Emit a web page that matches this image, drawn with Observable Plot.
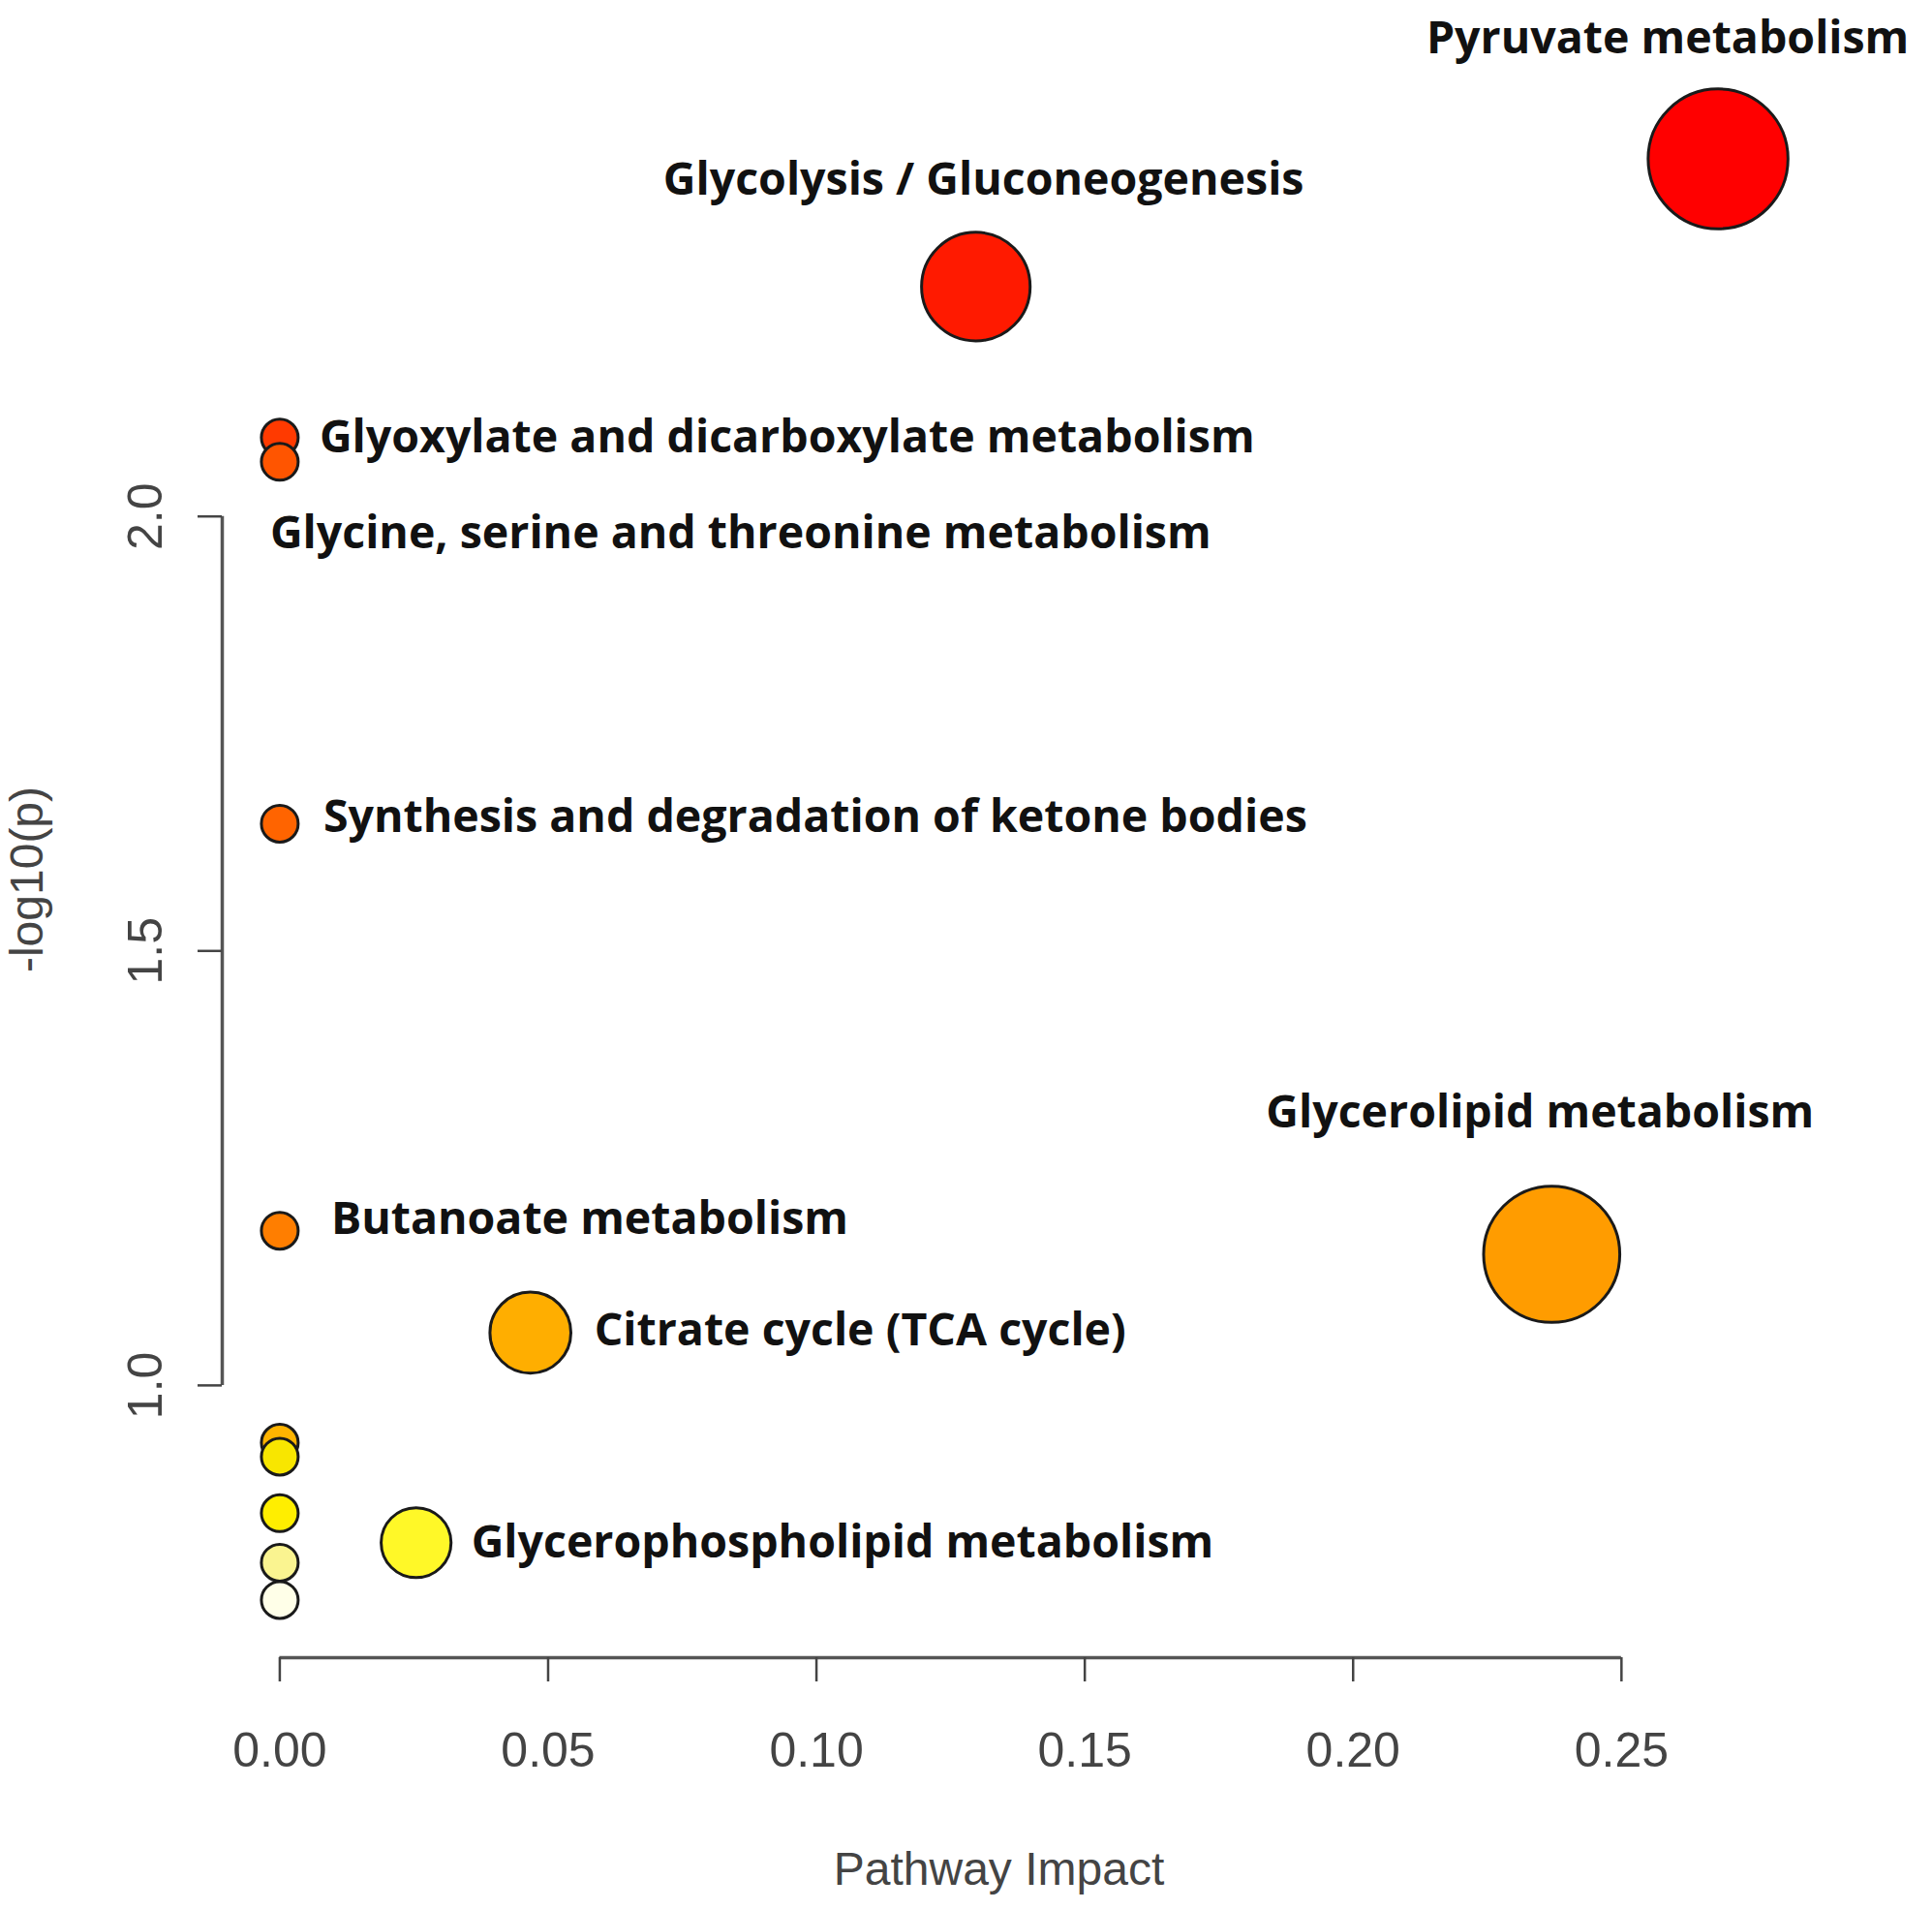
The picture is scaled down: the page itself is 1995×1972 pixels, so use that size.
<!DOCTYPE html>
<html><head><meta charset="utf-8">
<script src="https://cdn.jsdelivr.net/npm/d3@7"></script>
<script src="https://cdn.jsdelivr.net/npm/@observablehq/plot@0.6"></script>
<style>html,body{margin:0;padding:0;background:#fff;}</style>
</head><body><div id="chart"></div>
<script>
// ---- data ----
const pathwayNames = [
  "Pyruvate metabolism",
  "Glycolysis / Gluconeogenesis",
  "Glyoxylate and dicarboxylate metabolism",
  "Glycine, serine and threonine metabolism",
  "Synthesis and degradation of ketone bodies",
  "Butanoate metabolism",
  "Glycerolipid metabolism",
  "Citrate cycle (TCA cycle)",
  "",
  "",
  "",
  "Glycerophospholipid metabolism",
  "",
  ""
];
const pathwayImpact = [0.268, 0.1297, 0, 0, 0, 0, 0.237, 0.0467, 0, 0, 0, 0.0254, 0, 0];
const negLog10P     = [2.4115, 2.2645, 2.0907, 2.0629, 1.6464, 1.178, 1.1509, 1.0607, 0.934, 0.918, 0.853, 0.819, 0.796, 0.753];
const circleSize    = [3.8, 2.95, 1, 1, 1, 1, 3.7, 2.2, 1, 1, 1, 1.9, 1, 1];
const pointColors   = ["#FF0000", "#FF1A00", "#FF3A00", "#FF5500", "#FF6400", "#FF7E00", "#FF9C00", "#FFAE00",
                       "#FFB400", "#F8E600", "#FFEE00", "#FFF828", "#FAF490", "#FFFFE8"];
const xTicks = [0, 0.05, 0.10, 0.15, 0.20, 0.25];
const yTicks = [1.0, 1.5, 2.0];
const xTitle = "Pathway Impact";
const yTitle = "-log10(p)";

const rows = pathwayNames.map((name, i) => ({
  name, impact: pathwayImpact[i], p: negLog10P[i], size: circleSize[i], color: pointColors[i]
}));

// R-style plot region: data range padded by 4% on each side
function usr(vals) { const [a, b] = d3.extent(vals); const pad = (b - a) * 0.04; return [a - pad, b + pad]; }
const xDom = usr(pathwayImpact);
const yDom = usr(negLog10P);

// label placement (style)
const labelPlacement = {
  "Pyruvate metabolism": {textAnchor: "middle", dx: -52, dy: -124},
  "Glycolysis / Gluconeogenesis": {textAnchor: "middle", dx: 8, dy: -110},
  "Glyoxylate and dicarboxylate metabolism": {textAnchor: "start", dx: 41, dy: 0},
  "Glycine, serine and threonine metabolism": {textAnchor: "start", dx: -10, dy: 74},
  "Synthesis and degradation of ketone bodies": {textAnchor: "start", dx: 45, dy: -6},
  "Butanoate metabolism": {textAnchor: "start", dx: 53, dy: -12},
  "Glycerolipid metabolism": {textAnchor: "middle", dx: -12, dy: -146},
  "Citrate cycle (TCA cycle)": {textAnchor: "start", dx: 66, dy: -2},
  "Glycerophospholipid metabolism": {textAnchor: "start", dx: 57, dy: 0}
};

const W = 1995, H = 1972;
const axisColor = "#444";
const labelMarks = Object.entries(labelPlacement).map(([name, opt]) =>
  Plot.text(rows.filter(d => d.name === name), {
    x: "impact", y: "p", text: "name",
    textAnchor: opt.textAnchor, dx: opt.dx, dy: opt.dy,
    fontFamily: "Open Sans", fontWeight: "bold", fontSize: 46.5, fill: "#111"
  })
);

const chart = Plot.plot({
  width: W, height: H,
  marginLeft: 229, marginRight: 162, marginTop: 104, marginBottom: 261,
  x: {domain: xDom},
  y: {domain: yDom},
  r: {type: "linear", domain: [0, 1], range: [0, 19]},
  color: {type: "identity"},
  style: {fontFamily: "Liberation Sans", background: "#fff", color: axisColor},
  marks: [
    Plot.ruleY([yDom[0]], {x1: xTicks[0], x2: xTicks[xTicks.length - 1], stroke: "#555", strokeWidth: 3.5}),
    Plot.ruleX([xDom[0]], {y1: yTicks[0], y2: yTicks[yTicks.length - 1], stroke: "#555", strokeWidth: 3.5}),
    Plot.axisX({ticks: xTicks, tickFormat: d3.format(".2f"), tickSize: 25, tickPadding: 52,
      fontSize: 50, stroke: "#444", strokeWidth: 2.5, fill: "#444", label: null}),
    Plot.axisY({ticks: yTicks, tickFormat: d3.format(".1f"), tickSize: 25, tickRotate: -90, tickPadding: 38,
      fontSize: 50, stroke: "#444", strokeWidth: 2.5, fill: "#444", label: null}),
    Plot.text([xTitle], {frameAnchor: "bottom", lineAnchor: "middle", textAnchor: "middle", dy: 219, fontSize: 48, fill: "#444"}),
    Plot.text([yTitle], {frameAnchor: "left", lineAnchor: "middle", textAnchor: "middle", dx: -201, rotate: -90, fontSize: 48, fill: "#444"}),
    Plot.dot(rows, {x: "impact", y: "p", r: "size", fill: "color", stroke: "#1a1a1a", strokeWidth: 3}),
    ...labelMarks
  ]
});
document.getElementById("chart").appendChild(chart);
</script>
</body></html>
